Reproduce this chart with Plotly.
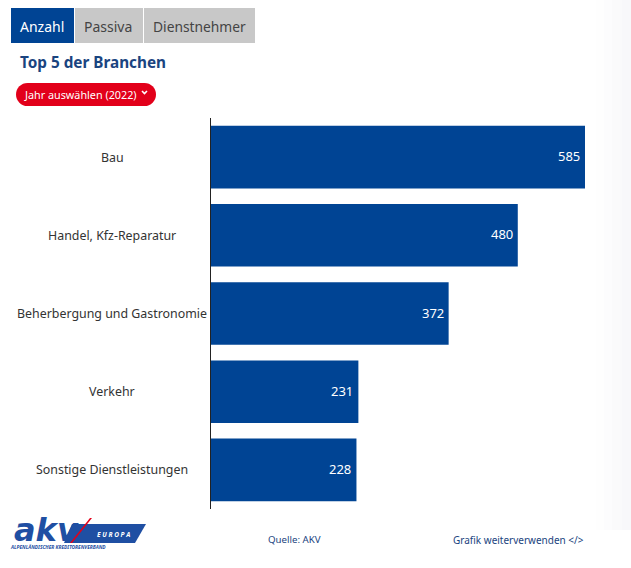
import plotly.graph_objects as go

W = 631
H = 568

branchen = ['Bau', 'Handel, Kfz-Reparatur', 'Beherbergung und Gastronomie', 'Verkehr', 'Sonstige Dienstleistungen']
anzahl = [585, 480, 372, 231, 228]

BLUE = '#004494'
NAVY = '#1a4480'
LOGO = '#1f4fa3'
RED = '#e2001a'
FONT = 'Noto Sans'


# pixel position in the screenshot -> paper coordinates
def px(x):
    return x / W


def py(y):
    return 1 - y / H


def box(x0, y0, x1, y1, color):
    return dict(type='rect', xref='paper', yref='paper', x0=px(x0), x1=px(x1), y0=py(y0), y1=py(y1),
                fillcolor=color, line_width=0, layer='below')


def poly(points, color):
    path = 'M' + ' L'.join(f'{px(x):.5f},{py(y):.5f}' for x, y in points) + ' Z'
    return dict(type='path', xref='paper', yref='paper', path=path, fillcolor=color, line_width=0)


def label(x, y, text, size, color, anchor='left', bold=False, font=FONT):
    if bold:
        text = f'<b>{text}</b>'
    return dict(xref='paper', yref='paper', x=px(x), y=py(y), text=text, showarrow=False,
                xanchor=anchor, yanchor='middle', font=dict(family=font, size=size, color=color))


fig = go.Figure()

fig.add_trace(go.Bar(
    x=anzahl,
    y=branchen,
    orientation='h',
    marker_color=BLUE,
    marker_line_width=0,
    width=0.8,
    cliponaxis=False,
))

shapes = [
    # faint page shadow down the right edge
    box(596, 0, 604, 530, '#fefefe'),
    box(604, 0, 612, 530, '#fcfcfd'),
    box(612, 0, 622, 530, '#fafafb'),
    box(622, 0, 631, 530, '#f8f8fa'),
    box(11, 8, 74, 43, BLUE),
    box(75, 8, 143, 43, '#c8c8c8'),
    box(144, 8, 255, 43, '#c8c8c8'),
    # year button, rounded ends
    dict(type='rect', xref='paper', yref='paper', x0=px(28), x1=px(144), y0=py(83), y1=py(106),
         fillcolor=RED, line_width=0),
    dict(type='circle', xref='paper', yref='paper', x0=px(16), x1=px(39), y0=py(83), y1=py(106),
         fillcolor=RED, line_width=0),
    dict(type='circle', xref='paper', yref='paper', x0=px(133), x1=px(156), y0=py(83), y1=py(106),
         fillcolor=RED, line_width=0),
    # chevron on the button
    dict(type='path', xref='paper', yref='paper', line=dict(color='white', width=1.6),
         path=f'M{px(142):.5f},{py(91):.5f} L{px(144.5):.5f},{py(93.5):.5f} L{px(147):.5f},{py(91):.5f}'),
    # logo band and red slash
    poly([(72, 524), (146, 524), (135, 543), (64, 543)], LOGO),
    poly([(90, 518), (92, 518), (72, 543), (70, 543)], RED),
]

annotations = [
    label(18, 26, 'Anzahl', 14, 'white'),
    label(82, 26, 'Passiva', 14, '#444444'),
    label(151, 26, 'Dienstnehmer', 13.8, '#444444'),
    label(18, 62.5, 'Top 5 der Branchen', 15.3, NAVY, bold=True),
    label(22, 95, 'Jahr auswählen (2022)', 10.8, 'white'),
    label(12, 530, '<i><b>akv</b></i>', 32, LOGO, font='DejaVu Sans'),
    label(113, 534, '<i><b>E U R O P A</b></i>', 6.5, 'white', anchor='center'),
    label(8, 547, '<i><b>ALPENLÄNDISCHER KREDITORENVERBAND</b></i>', 4.8, LOGO),
    label(266, 539, 'Quelle: AKV', 9.7, NAVY),
    label(451, 540, 'Grafik weiterverwenden &lt;/&gt;', 10, NAVY),
]

# category names sit centred in the left column, values inside the bar ends
for name, value in zip(branchen, anzahl):
    annotations.append(dict(xref='paper', yref='y', x=px(112), y=name, text=name, showarrow=False,
                            xanchor='center', yanchor='middle',
                            font=dict(family=FONT, size=12.4, color='#333333')))
    annotations.append(dict(xref='x', yref='y', x=value, y=name, text=str(value), showarrow=False,
                            xanchor='right', yanchor='middle', xshift=-3, yshift=1,
                            font=dict(family=FONT, size=13, color='white')))

fig.update_layout(
    width=W,
    height=H,
    margin=dict(l=0, r=0, t=0, b=0),
    paper_bgcolor='white',
    plot_bgcolor='rgba(0,0,0,0)',
    showlegend=False,
    shapes=shapes,
    annotations=annotations,
    font=dict(family=FONT),
    xaxis=dict(domain=[px(210.5), px(585)], range=[0, 585], visible=False),
    yaxis=dict(
        domain=[py(509), py(118)],
        autorange='reversed',
        showgrid=False,
        showline=True,
        linecolor='#222222',
        linewidth=1,
        ticks='',
        showticklabels=False,
    ),
)

fig.write_html('out.html', config=dict(displayModeBar=False),
               post_script="document.body.style.margin='0';document.body.style.overflow='hidden';")
